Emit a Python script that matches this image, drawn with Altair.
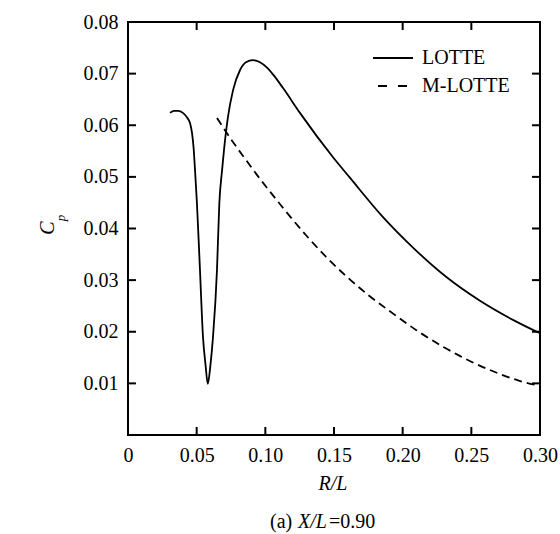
import altair as alt
import pandas as pd

# Pressure coefficient along the radius, X/L = 0.90
lotte_r = [0.0306, 0.0335, 0.0365, 0.0400, 0.0430, 0.0452, 0.0466, 0.0478, 0.0488,
           0.0502, 0.0524, 0.0546, 0.0565, 0.0581, 0.0600, 0.0619, 0.0648, 0.0665,
           0.0685, 0.0699, 0.0728, 0.0765, 0.0816, 0.0859, 0.0910, 0.0961, 0.1010,
           0.1060, 0.1129, 0.1252, 0.1493, 0.1617, 0.1857, 0.2075, 0.2323, 0.2563,
           0.2803, 0.3000]
lotte_cp = [0.0624, 0.0628, 0.0628, 0.0624, 0.0615, 0.0604, 0.0585, 0.0555, 0.0513,
            0.0449, 0.0320, 0.0190, 0.0135, 0.0099, 0.0135, 0.0190, 0.0320, 0.0449,
            0.0513, 0.0552, 0.0616, 0.0668, 0.0707, 0.0722, 0.0726, 0.0722, 0.0712,
            0.0697, 0.0672, 0.0624, 0.0538, 0.0498, 0.0422, 0.0363, 0.0305, 0.0260,
            0.0223, 0.0197]

mlotte_r = [0.0648, 0.075, 0.085, 0.095, 0.105, 0.115, 0.130, 0.145, 0.160, 0.175,
            0.190, 0.210, 0.230, 0.250, 0.270, 0.285, 0.300]
mlotte_cp = [0.0614, 0.0573, 0.0536, 0.0500, 0.0466, 0.0433, 0.0386, 0.0343, 0.0305,
             0.0271, 0.0241, 0.0203, 0.0170, 0.0142, 0.0119, 0.0105, 0.0095]

x_ticks = [0.05, 0.10, 0.15, 0.20, 0.25]
x_labels = [0, 0.05, 0.10, 0.15, 0.20, 0.25, 0.30]
y_ticks = [0.01, 0.02, 0.03, 0.04, 0.05, 0.06, 0.07]
y_labels = [0.01, 0.02, 0.03, 0.04, 0.05, 0.06, 0.07, 0.08]

W, H = 412, 413
FONT = "Liberation Serif"

lotte = pd.DataFrame({"R": lotte_r, "Cp": lotte_cp})
mlotte = pd.DataFrame({"R": mlotte_r, "Cp": mlotte_cp})
xt = pd.DataFrame({"R": x_ticks})
yt = pd.DataFrame({"Cp": y_ticks})
one = pd.DataFrame({"k": [0]})

xs = alt.Scale(domain=[0, 0.30], nice=False, zero=False)
ys = alt.Scale(domain=[0, 0.08], nice=False, zero=False)

x_axis = alt.Axis(values=x_labels, labelExpr="datum.value == 0 ? '0' : format(datum.value, '.2f')",
                  labelPadding=10, labelFlush=False, labelOverlap=False, title=None)
y_axis = alt.Axis(values=y_labels, format=".2f", labelPadding=10, labelFlush=False,
                  labelOverlap=False, title=None)

X = alt.X("R:Q", scale=xs, axis=x_axis)
Y = alt.Y("Cp:Q", scale=ys, axis=y_axis)

line_lotte = alt.Chart(lotte).mark_line(color="black", strokeWidth=1.8,
                                        interpolate="monotone").encode(x=X, y=Y)
line_mlotte = alt.Chart(mlotte).mark_line(color="black", strokeWidth=1.8, strokeDash=[8, 5],
                                          interpolate="monotone").encode(x=X, y=Y)

# inward tick marks on all four sides
tick_style = dict(color="black", strokeWidth=2)
t_bottom = alt.Chart(xt).mark_rule(**tick_style).encode(x=X, y=alt.value(H), y2=alt.value(H - 8))
t_top = alt.Chart(xt).mark_rule(**tick_style).encode(x=X, y=alt.value(0), y2=alt.value(8))
t_left = alt.Chart(yt).mark_rule(**tick_style).encode(y=Y, x=alt.value(0), x2=alt.value(8))
t_right = alt.Chart(yt).mark_rule(**tick_style).encode(y=Y, x=alt.value(W), x2=alt.value(W - 8))

# legend
leg_solid = alt.Chart(one).mark_rule(color="black", strokeWidth=1.8).encode(
    x=alt.value(245), x2=alt.value(285), y=alt.value(36))
leg_dash = alt.Chart(one).mark_rule(color="black", strokeWidth=1.8, strokeDash=[9, 11]).encode(
    x=alt.value(250), x2=alt.value(280), y=alt.value(64))


def label(text, x, y, size=20, style="normal", align="left", angle=0):
    kw = dict(text=text, font=FONT, fontSize=size, fontStyle=style, align=align,
              baseline="middle", color="black")
    if angle:
        kw["angle"] = angle
    return alt.Chart(one).mark_text(**kw).encode(x=alt.value(x), y=alt.value(y))


texts = [
    label("LOTTE", 294, 36),
    label("M-LOTTE", 294, 64),
    label("R/L", 205, 462, style="italic", align="center"),
    label("C", -80, 206, style="italic", align="center", angle=270),
    label("p", -67, 196, size=13, style="italic", align="center", angle=270),
    label("(a)", 142, 500),
    label("X/L", 170, 500, style="italic"),
    label("=0.90", 201, 500),
]

chart = alt.layer(
    line_lotte, line_mlotte, t_bottom, t_top, t_left, t_right, leg_solid, leg_dash, *texts
).properties(
    width=W, height=H,
    autosize=alt.AutoSizeParams(type="none"),
    padding={"left": 128, "top": 22, "right": 20, "bottom": 99},
).configure_axis(
    labelFont=FONT, labelFontSize=20, labelColor="black",
    ticks=False, domain=False, grid=False,
).configure_view(stroke="black", strokeWidth=2)

chart.save("out.html", embed_options={"renderer": "svg", "actions": False})
